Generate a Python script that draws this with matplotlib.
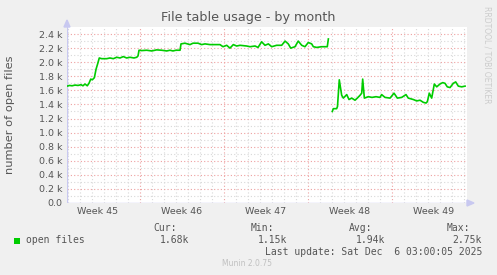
import numpy as np
import matplotlib
matplotlib.use("Agg")
import matplotlib.pyplot as plt
from matplotlib.patches import Rectangle

# days since the left edge of the graph (1 px = 2 h), values in thousands
days = [0.00, 0.21, 0.42, 0.67, 0.92, 1.17, 1.33, 1.50, 1.69, 1.83, 1.98, 2.11, 2.28,
        2.42, 2.56, 2.69, 2.89, 3.31, 3.58, 3.86, 4.14, 4.42, 4.69, 4.97, 5.25, 5.58,
        5.81, 5.92, 6.00, 6.22, 6.64, 7.06, 7.47, 7.89, 8.31, 8.58, 8.83, 9.08, 9.42,
        9.50, 9.83, 10.25, 10.50, 10.92, 11.22, 11.50, 11.92, 12.33, 12.75, 13.00,
        13.31, 13.58, 13.86, 14.14, 14.42, 14.97, 15.25, 15.67, 15.92, 16.22, 16.50,
        16.78, 17.06, 17.47, 17.89, 18.17, 18.44, 18.64, 19.00, 19.27, 19.56, 19.83,
        20.11, 20.39, 20.53, 20.81, 21.22, 21.50, 21.69, 21.78, 21.90,
        22.11, 22.19, 22.47, 22.54, 22.69, 22.89, 23.03, 23.31, 23.50, 23.73, 24.00,
        24.19, 24.42, 24.56, 24.64, 24.78, 25.11, 25.42, 25.75, 26.08, 26.22, 26.50,
        26.92, 27.25, 27.53, 27.89, 28.25, 28.44, 28.86, 29.14, 29.42, 29.69, 29.92,
        30.03, 30.19, 30.39, 30.61, 30.81, 31.08, 31.31, 31.50, 31.69, 31.92, 32.19,
        32.39, 32.61, 32.89, 33.17]
open_files = [1.66, 1.67, 1.665, 1.675, 1.67, 1.68, 1.665, 1.69, 1.665, 1.70, 1.76, 1.75, 1.78,
              1.90, 1.98, 2.06, 2.05, 2.05, 2.06, 2.05, 2.07, 2.06, 2.08, 2.06, 2.07, 2.06,
              2.07, 2.09, 2.17, 2.165, 2.17, 2.16, 2.175, 2.17, 2.16, 2.17, 2.16, 2.17, 2.17,
              2.26, 2.27, 2.25, 2.27, 2.27, 2.25, 2.26, 2.25, 2.25, 2.25, 2.22,
              2.24, 2.20, 2.25, 2.23, 2.24, 2.23, 2.22, 2.23, 2.21, 2.29, 2.24,
              2.26, 2.22, 2.24, 2.24, 2.30, 2.26, 2.20, 2.22, 2.30, 2.24, 2.22,
              2.28, 2.26, 2.22, 2.21, 2.22, 2.22, 2.22, 2.33, np.nan,
              1.30, 1.34, 1.34, 1.37, 1.75, 1.53, 1.49, 1.54, 1.47, 1.49, 1.46,
              1.49, 1.53, 1.56, 1.76, 1.49, 1.51, 1.50, 1.51, 1.50, 1.54, 1.50,
              1.49, 1.56, 1.49, 1.50, 1.54, 1.49, 1.47, 1.45, 1.46, 1.43, 1.42,
              1.44, 1.56, 1.49, 1.69, 1.65, 1.69, 1.71, 1.70, 1.65, 1.64, 1.70,
              1.72, 1.66, 1.65, 1.66]
week_labels = ["Week 45", "Week 46", "Week 47", "Week 48", "Week 49"]
week_starts = [6.083, 13.083, 20.083, 27.083]
stat_names = ["Cur:", "Min:", "Avg:", "Max:"]
stat_values = ["1.68k", "1.15k", "1.94k", "2.75k"]

W, H = 497, 275
fig = plt.figure(figsize=(W / 100, H / 100), dpi=100, facecolor="#f0f0f0")
ax = fig.add_axes([67 / W, (H - 203) / H, 400 / W, 176 / H], facecolor="white")

xmax = 400 / 12
ax.set_xlim(0, xmax)
ax.set_ylim(0, 2.5)

txt = "#555555"
minor_c = "#d8d8d8"
major_c = "#eea0a0"

# grid
for d in np.arange(week_starts[0] % 1, xmax, 1.0):
    if min(abs(d - w) for w in week_starts) < 0.01:
        continue
    ax.axvline(d, color=minor_c, lw=0.8, ls=(0, (1, 2)), zorder=1)
for w in week_starts:
    ax.axvline(w, color=major_c, lw=0.8, ls=(0, (1, 2)), zorder=1)
for v in np.arange(0.1, 2.5, 0.2):
    ax.axhline(v, color=minor_c, lw=0.8, ls=(0, (1, 2)), zorder=1)
for v in np.arange(0.2, 2.45, 0.2):
    ax.axhline(v, color=major_c, lw=0.8, ls=(0, (1, 2)), zorder=1)

ax.plot(days, open_files, color="#00cc00", lw=1.2, zorder=3)

for s in ax.spines.values():
    s.set_visible(False)
ax.axvline(0, color="#c8c8f0", lw=1, zorder=2)
ax.axhline(0, color="#c8c8f0", lw=1, zorder=2)

ax.set_yticks(np.arange(0, 2.45, 0.2))
ax.set_yticklabels(["0.0"] + ["%.1f k" % v for v in np.arange(0.2, 2.45, 0.2)])
centers = [week_starts[0] - 3.5] + [w + 3.5 for w in week_starts]
ax.set_xticks(centers)
ax.set_xticklabels(week_labels)
ax.tick_params(axis="both", length=0, labelsize=6.8, colors=txt, pad=3)

# axis arrows
fig.patches.append(plt.Polygon([[64 / W, (H - 27) / H], [70 / W, (H - 27) / H], [67 / W, (H - 20) / H]],
                               closed=True, transform=fig.transFigure, color="#c8c8f0"))
fig.patches.append(plt.Polygon([[467 / W, (H - 200) / H], [467 / W, (H - 206) / H], [474 / W, (H - 203) / H]],
                               closed=True, transform=fig.transFigure, color="#c8c8f0"))

def px(x, y):
    return x / W, (H - y) / H

fig.text(*px(248, 18), "File table usage - by month", ha="center", va="center",
         fontsize=9.2, color=txt, family="DejaVu Sans")
fig.text(*px(10, 115), "number of open files", ha="center", va="center", rotation=90,
         fontsize=8.2, color=txt, family="DejaVu Sans")
fig.text(*px(487, 55), "RRDTOOL / TOBI OETIKER", ha="center", va="center", rotation=270,
         fontsize=5.5, color="#cccccc", family="DejaVu Sans")

mono = "DejaVu Sans Mono"
name_right = [177, 274, 372, 470]
val_right = [189, 287, 385, 482]
for n, v, nr, vr in zip(stat_names, stat_values, name_right, val_right):
    fig.text(*px(nr, 228), n, ha="right", va="center", fontsize=7, color=txt, family=mono)
    fig.text(*px(vr, 240), v, ha="right", va="center", fontsize=7, color=txt, family=mono)
fig.patches.append(Rectangle(px(14, 244), 6 / W, 6 / H, transform=fig.transFigure,
                             facecolor="#00cc00", edgecolor="none"))
fig.text(*px(26, 240), "open files", ha="left", va="center", fontsize=7, color=txt, family=mono)
fig.text(*px(482, 252), "Last update: Sat Dec  6 03:00:05 2025", ha="right", va="center",
         fontsize=7, color=txt, family=mono)
fig.text(*px(247, 264), "Munin 2.0.75", ha="center", va="center", fontsize=5.5,
         color="#c0c0c0", family="DejaVu Sans")

fig.savefig("out.png", dpi=100, facecolor=fig.get_facecolor())
